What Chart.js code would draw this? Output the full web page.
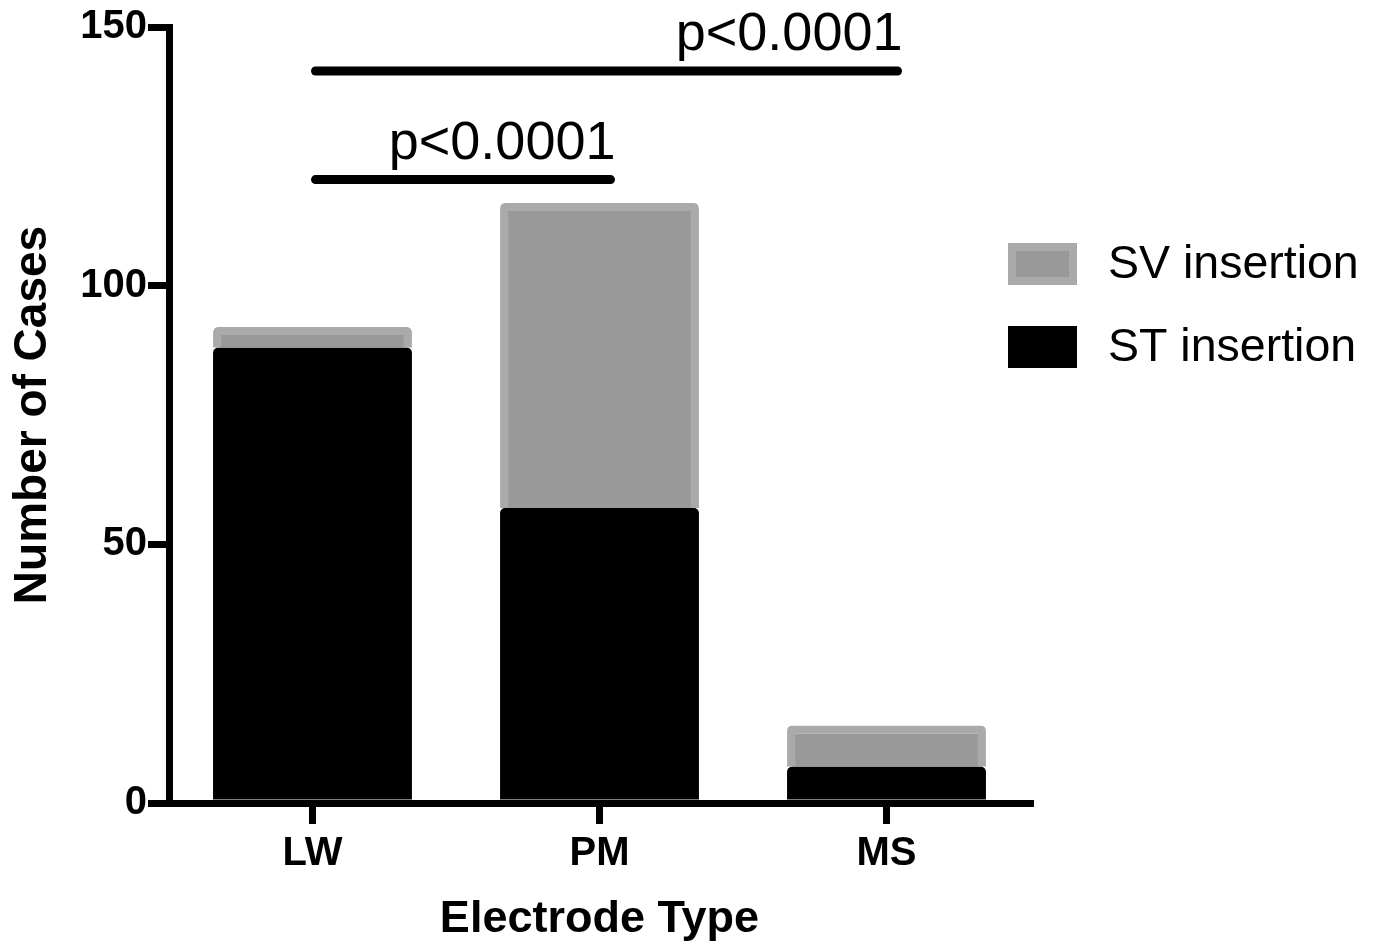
<!DOCTYPE html>
<html>
<head>
<meta charset="utf-8">
<script src="https://cdn.jsdelivr.net/npm/chart.js@4"></script>
<style>
  html, body { margin: 0; padding: 0; background: #fff; }
</style>
</head>
<body>
<canvas id="myChart" width="1374" height="947"></canvas>
<script>
const categories = ['LW', 'PM', 'MS'];
const stInsertion = [88, 57, 7];
const svInsertion = [4, 59, 8];
const yTicks = [0, 50, 100, 150];
const comparisons = [
  { from: 'LW', to: 'MS', level: 141.5, label: 'p<0.0001' },
  { from: 'LW', to: 'PM', level: 120.5, label: 'p<0.0001' }
];

const FONT = "'Liberation Sans', Arial, sans-serif";
Chart.defaults.font.family = FONT;
Chart.defaults.color = '#000';

// significance bars + legend drawn on top of the plot
const extras = {
  id: 'extras',
  afterDatasetsDraw(chart) {
    const { ctx, scales: { x, y } } = chart;
    ctx.save();
    ctx.strokeStyle = '#000';
    ctx.fillStyle = '#000';
    ctx.lineWidth = 9;
    ctx.lineCap = 'round';
    ctx.font = '54px ' + FONT;
    ctx.textAlign = 'right';
    ctx.textBaseline = 'alphabetic';
    comparisons.forEach(c => {
      const x1 = x.getPixelForValue(categories.indexOf(c.from)) + 3;
      const x2 = x.getPixelForValue(categories.indexOf(c.to)) + 11;
      const yy = y.getPixelForValue(c.level);
      ctx.beginPath();
      ctx.moveTo(x1, yy);
      ctx.lineTo(x2, yy);
      ctx.stroke();
      ctx.fillText(c.label, x2 + 5, yy - 21);
    });

    // legend, top item = last dataset
    const items = chart.data.datasets.slice().reverse();
    ctx.font = '46.5px ' + FONT;
    ctx.textAlign = 'left';
    ctx.textBaseline = 'middle';
    items.forEach((ds, i) => {
      const bx = 1008, by = 243 + i * 83, bw = 69, bh = 42;
      const bwid = ds.borderWidth || 0;
      if (bwid) {
        ctx.fillStyle = ds.borderColor;
        ctx.fillRect(bx, by, bw, bh);
        ctx.fillStyle = ds.backgroundColor;
        ctx.fillRect(bx + bwid, by + bwid, bw - 2 * bwid, bh - 2 * bwid);
      } else {
        ctx.fillStyle = ds.backgroundColor;
        ctx.fillRect(bx, by, bw, bh);
      }
      ctx.fillStyle = '#000';
      ctx.fillText(ds.label, 1108, by + bh / 2 + 1);
    });
    ctx.restore();
  }
};

new Chart(document.getElementById('myChart'), {
  type: 'bar',
  data: {
    labels: categories,
    datasets: [{
      label: 'ST insertion',
      data: stInsertion,
      backgroundColor: '#000000',
      borderWidth: 0,
      borderRadius: { topLeft: 5, topRight: 5 }
    }, {
      label: 'SV insertion',
      data: svInsertion,
      backgroundColor: '#999999',
      borderColor: '#aaaaaa',
      borderWidth: 8,
      borderRadius: 5
    }]
  },
  options: {
    responsive: false,
    animation: false,
    barPercentage: 0.693,
    categoryPercentage: 1,
    layout: {
      padding: { top: 27, right: 344, bottom: 0, left: 0 }
    },
    plugins: {
      legend: { display: false },
      tooltip: { enabled: false }
    },
    scales: {
      x: {
        stacked: true,
        border: { display: true, color: '#000', width: 7 },
        grid: {
          drawOnChartArea: false,
          offset: false,
          color: '#000',
          lineWidth: 7,
          tickLength: 21
        },
        ticks: {
          color: '#000',
          padding: 6,
          font: { size: 40, weight: 'bold' }
        },
        title: {
          display: true,
          text: 'Electrode Type',
          color: '#000',
          font: { size: 45, weight: 'bold' },
          padding: { top: 0, bottom: 0 }
        },
        afterFit: (s) => { s.height = 144; }
      },
      y: {
        stacked: true,
        min: 0,
        max: 150,
        border: { display: true, color: '#000', width: 7 },
        grid: {
          drawOnChartArea: false,
          color: '#000',
          lineWidth: 7,
          tickLength: 21
        },
        ticks: {
          color: '#000',
          padding: 1,
          font: { size: 40, weight: 'bold' }
        },
        afterBuildTicks: (axis) => { axis.ticks = yTicks.map(v => ({ value: v })); },
        title: {
          display: true,
          text: 'Number of Cases',
          color: '#000',
          font: { size: 46, weight: 'bold' },
          padding: { top: 6, bottom: 0 }
        },
        afterFit: (s) => { s.width = 169; }
      }
    }
  },
  plugins: [extras]
});
</script>
</body>
</html>
